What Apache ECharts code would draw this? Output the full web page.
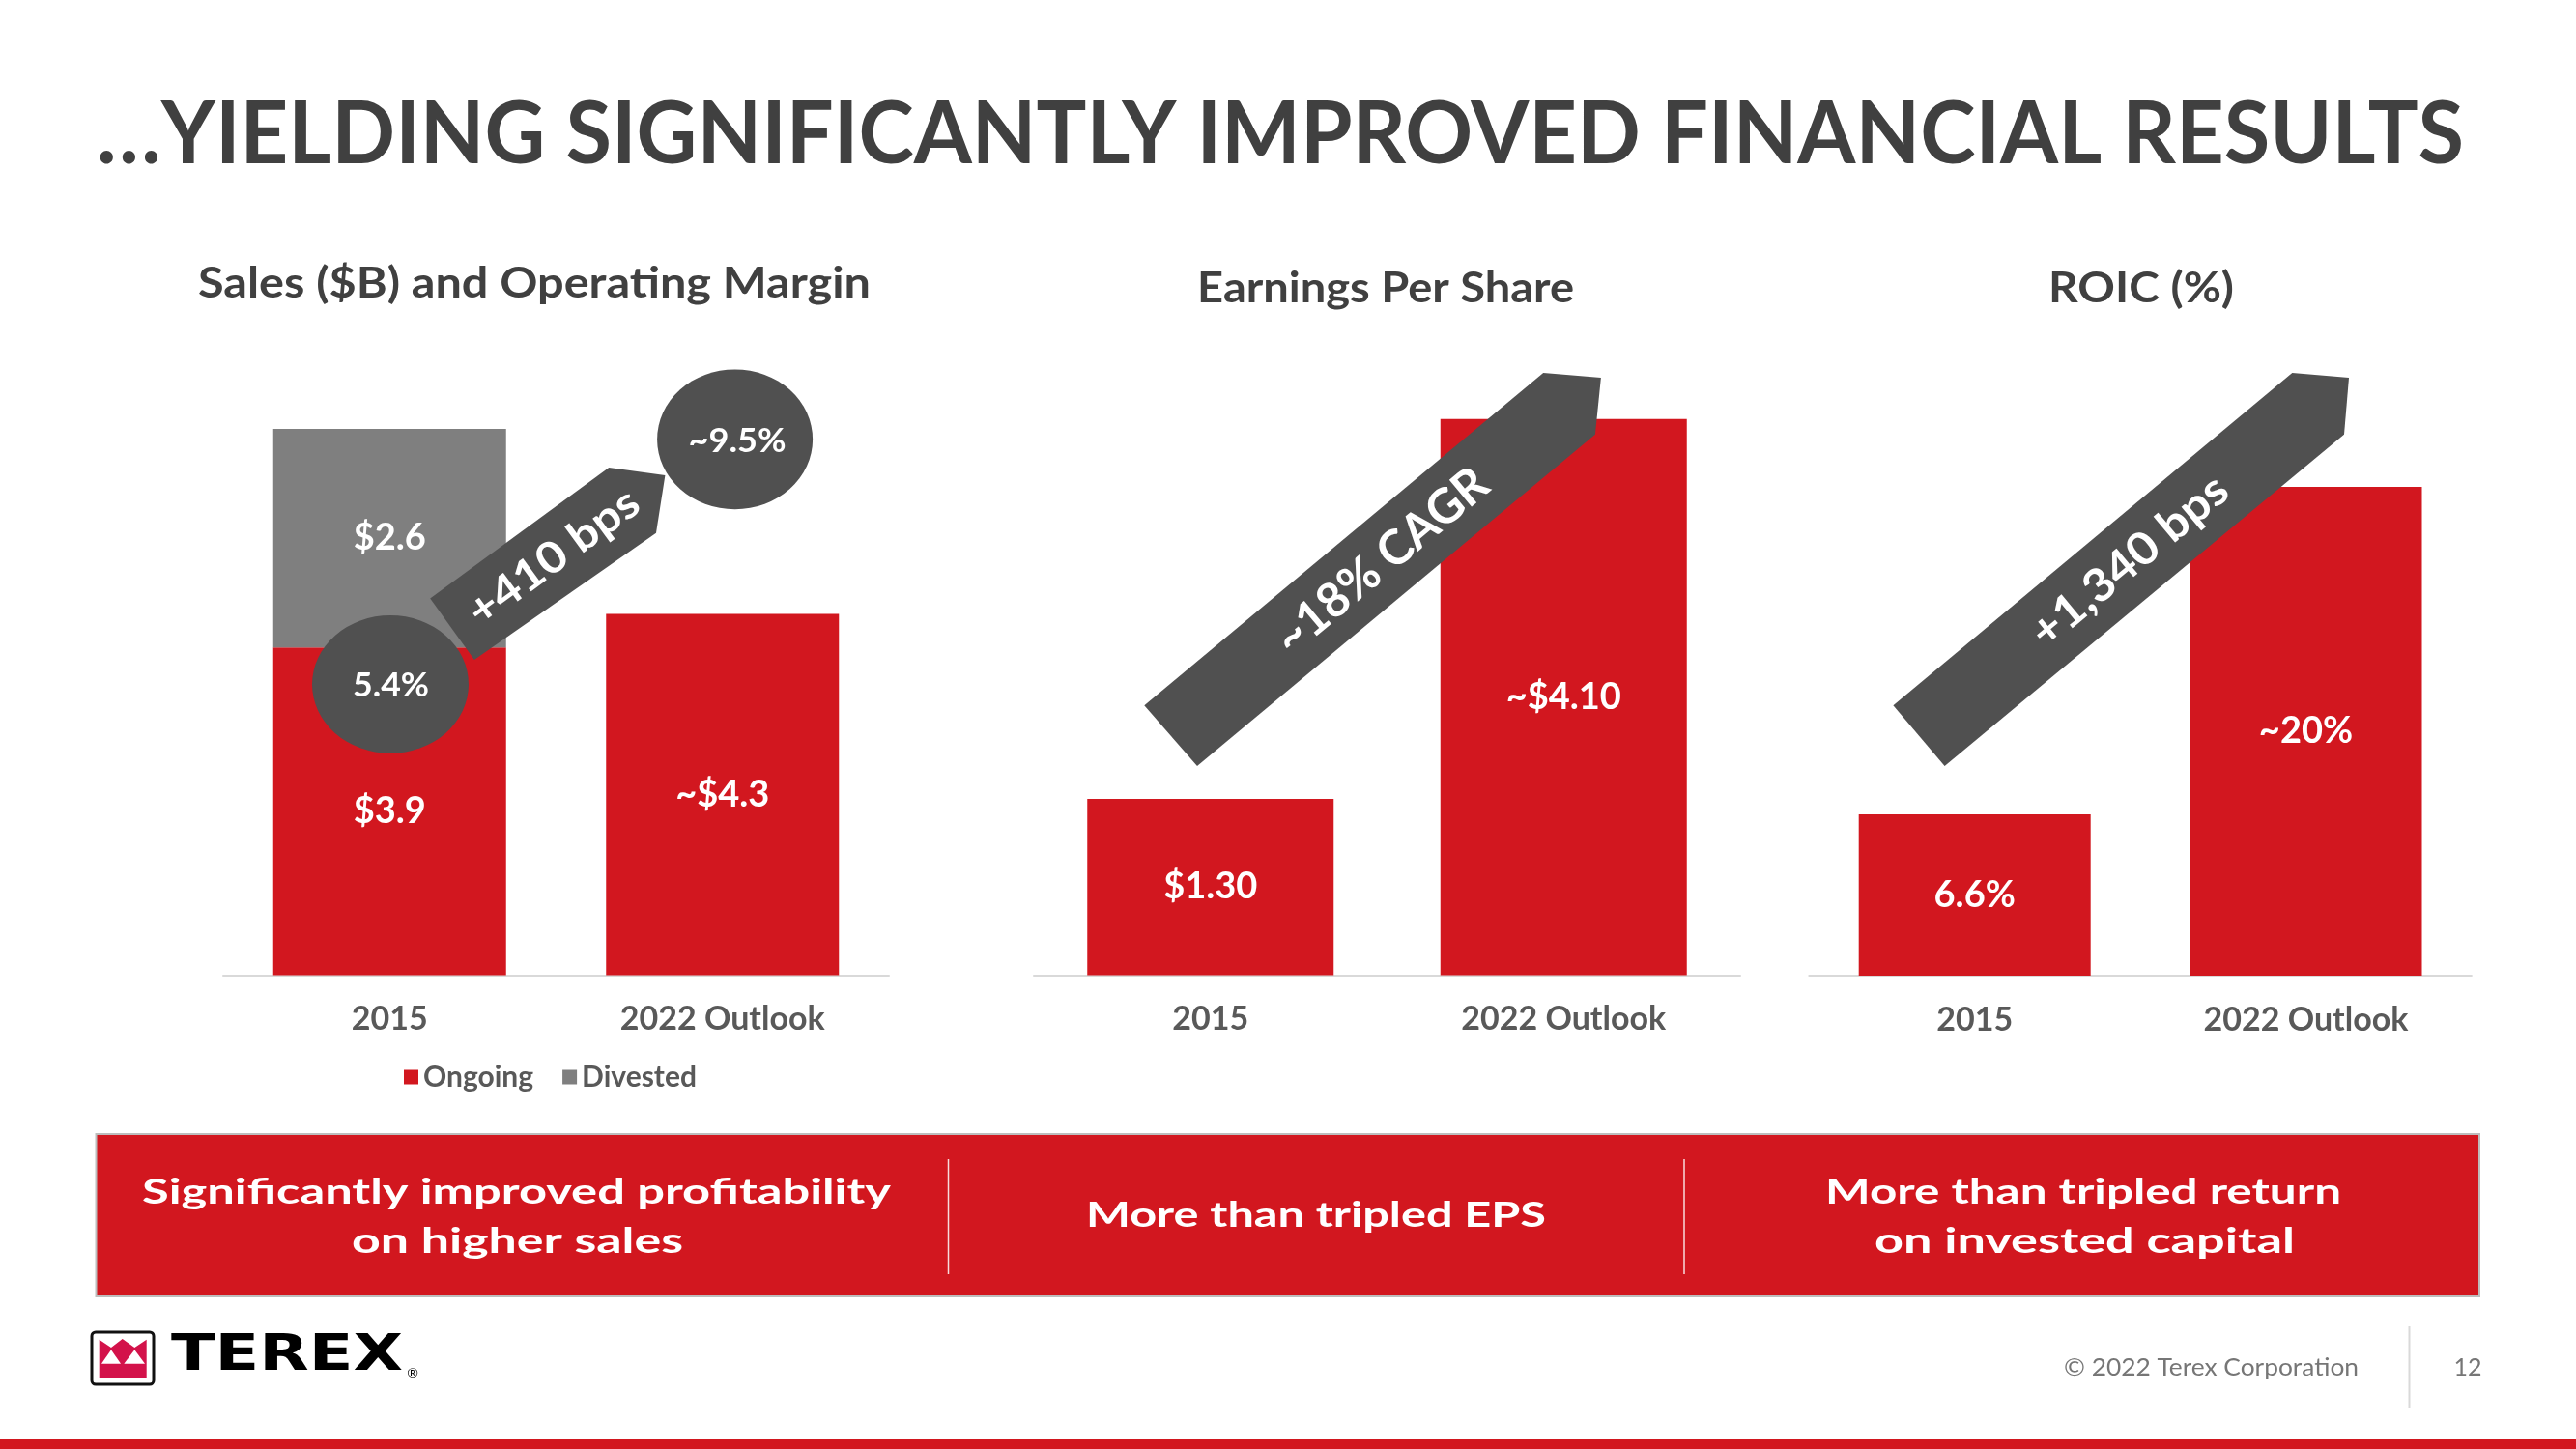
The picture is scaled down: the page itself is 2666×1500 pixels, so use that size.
<!DOCTYPE html>
<html>
<head>
<meta charset="utf-8">
<title>Improved financial results</title>
<script src="https://cdn.jsdelivr.net/npm/echarts@6/dist/echarts.min.js"></script>
<style>
  html, body { margin: 0; padding: 0; background: #fff; }
  #main { width: 2666px; height: 1500px; }
</style>
</head>
<body>
<div id="main"></div>
<script>
  // values
  const categories = ['2015', '2022 Outlook'];
  const salesOngoing = [3.9, 4.3];      // $B
  const salesDivested = [2.6, null];    // $B, 2015 only
  const eps = [1.30, 4.10];             // $ per share
  const roic = [6.6, 20];               // %
  const approx = [false, true];         // 2022 numbers are an outlook (~)
  const marginLabels = ['5.4%', '~9.5%'];
  const growthLabels = ['+410 bps', '~18% CAGR', '+1,340 bps'];
  const chartTitles = ['Sales ($B) and Operating Margin', 'Earnings Per Share', 'ROIC (%)'];
  const takeaways = [
    ['Significantly improved profitability', 'on higher sales'],
    ['More than tripled EPS'],
    ['More than tripled return', 'on invested capital']
  ];

  const RED = '#d2171f';
  const DARK = '#505050';
  const FONT = 'Lato';

  const measure = document.createElement('canvas').getContext('2d');
  function fit(text, size, weight, family, width) {
    measure.font = weight + ' ' + size + 'px ' + family;
    return width / measure.measureText(text).width;
  }

  // text helper for the graphic layer, stretched to the width it has on the slide
  function txt(text, x, y, size, width, opts) {
    opts = opts || {};
    const weight = opts.weight || 'bold';
    const family = opts.family || FONT;
    return {
      type: 'text', x: x, y: y, z: 110,
      rotation: opts.rotation || 0,
      scaleX: width ? fit(text, size, weight, family, width) : 1,
      style: {
        text: text, fontSize: size, fontWeight: weight, fontFamily: family,
        fill: opts.color || '#fff', align: opts.align || 'center', verticalAlign: 'middle'
      }
    };
  }

  function poly(points, color) {
    return { type: 'polygon', z: 100, shape: { points: points }, style: { fill: color } };
  }

  function oval(cx, cy, rx, ry) {
    return { type: 'circle', x: cx, y: cy, scaleY: ry / rx, z: 105, shape: { cx: 0, cy: 0, r: rx }, style: { fill: DARK } };
  }

  const valueLabel = function (fmt) {
    return {
      show: true, position: 'inside', color: '#fff', fontSize: 38, fontWeight: 'bold', fontFamily: FONT,
      formatter: fmt
    };
  };

  const grids = [
    { left: 231, top: 400.5, width: 689, height: 609, max: 7 },
    { left: 1070, top: 307.5, width: 731, height: 702, max: 5 },
    { left: 1872.3, top: 377.4, width: 685.6, height: 632.5, max: 25 }
  ];

  const chart = echarts.init(document.getElementById('main'), null, { renderer: 'canvas' });

  let graphic = [
    txt('\u2026YIELDING SIGNIFICANTLY IMPROVED FINANCIAL RESULTS', 100, 140, 89, 2450, { align: 'left', color: '#404040' }),
    txt(chartTitles[0], 553, 294, 44, 696, { color: '#404040' }),
    txt(chartTitles[1], 1434, 299, 44, 390, { color: '#404040' }),
    txt(chartTitles[2], 2216, 299, 44, 192, { color: '#404040' }),

    // growth arrows
    poly([[445.2, 619.6], [630.2, 483.9], [688.4, 492], [679, 551.7], [490.9, 682.9]], DARK),
    poly([[1184.3, 730.3], [1597.2, 385.9], [1656.9, 391], [1650.9, 449.7], [1239, 793]], DARK),
    poly([[1959.4, 730.3], [2372.3, 385.9], [2431, 391], [2426, 449.7], [2012.6, 793]], DARK),
    txt(growthLabels[0], 573, 577, 45, 208, { rotation: 0.633 }),
    txt(growthLabels[1], 1430, 581, 50, 271, { rotation: 0.695 }),
    txt(growthLabels[2], 2204, 581, 47, 250, { rotation: 0.695 }),

    // operating margin bubbles
    oval(404, 708.4, 81, 71.4),
    oval(760.6, 454.8, 80.5, 72.4),
    txt(marginLabels[0], 404.5, 710, 35, 79),
    txt(marginLabels[1], 763, 457, 35, 101),

    // takeaway box
    { type: 'rect', z: 90, shape: { x: 99.5, y: 1174, width: 2466.5, height: 168 },
      style: { fill: RED, stroke: '#bdbdbd', lineWidth: 2 } },
    { type: 'line', z: 95, shape: { x1: 981.5, y1: 1200, x2: 981.5, y2: 1319 },
      style: { stroke: 'rgba(255,255,255,0.85)', lineWidth: 1.5 } },
    { type: 'line', z: 95, shape: { x1: 1743, y1: 1200, x2: 1743, y2: 1319 },
      style: { stroke: 'rgba(255,255,255,0.85)', lineWidth: 1.5 } },
    txt(takeaways[0][0], 534.5, 1234.5, 36, 775),
    txt(takeaways[0][1], 535.5, 1285.5, 36, 343),
    txt(takeaways[1][0], 1362, 1258, 36, 476),
    txt(takeaways[2][0], 2156, 1234.5, 36, 534),
    txt(takeaways[2][1], 2157.5, 1285.5, 36, 435),

    // footer
    { type: 'rect', z: 90, shape: { x: 95, y: 1379, width: 64, height: 54, r: 4 },
      style: { fill: '#fff', stroke: '#111', lineWidth: 3 } },
    poly([[102.7, 1386.7], [115, 1395], [126.7, 1386], [139.3, 1395], [151.7, 1386.7], [151.7, 1426.7], [102.7, 1426.7]], '#d3124a'),
    poly([[105, 1411.7], [115, 1397.3], [125, 1411.7]], '#fff'),
    poly([[128.3, 1411.7], [139.3, 1397.3], [150, 1411.7]], '#fff'),
    txt('TEREX', 177, 1404.5, 52, 240, { align: 'left', color: '#000', family: '"DejaVu Sans"' }),
    txt('\u00ae', 427, 1421, 14, 0, { color: '#000', weight: 'normal' }),
    txt('\u00a9 2022 Terex Corporation', 2136, 1416, 25, 305, { align: 'left', color: '#767676', weight: 'normal' }),
    { type: 'line', z: 95, shape: { x1: 2493.5, y1: 1373, x2: 2493.5, y2: 1458 },
      style: { stroke: '#d9d9d9', lineWidth: 2 } },
    txt('12', 2554, 1416, 25, 0, { color: '#767676', weight: 'normal' }),
    { type: 'rect', z: 90, shape: { x: 0, y: 1490, width: 2666, height: 10 }, style: { fill: RED } }
  ];

  const option = {
    animation: false,
    backgroundColor: '#fff',
    textStyle: { fontFamily: FONT },
    grid: grids.map(function (g) {
      return { left: g.left, top: g.top, width: g.width, height: g.height, containLabel: false, outerBoundsMode: 'none' };
    }),
    xAxis: grids.map(function (g, i) {
      return {
        type: 'category', gridIndex: i, data: categories,
        axisLine: { show: true, lineStyle: { color: '#d9d9d9', width: 2 } },
        axisTick: { show: false },
        splitLine: { show: false },
        axisLabel: { fontSize: 34, fontWeight: 'bold', color: '#595959', margin: 29, fontFamily: FONT }
      };
    }),
    yAxis: grids.map(function (g, i) {
      return { type: 'value', gridIndex: i, min: 0, max: g.max, show: false, splitLine: { show: false } };
    }),
    legend: {
      data: ['Ongoing', 'Divested'],
      left: 418, top: 1100, padding: 0,
      icon: 'rect', itemWidth: 15, itemHeight: 15, itemGap: 30,
      textStyle: { fontSize: 30, fontWeight: 'bold', color: '#595959', fontFamily: FONT }
    },
    series: [
      {
        name: 'Ongoing', type: 'bar', xAxisIndex: 0, yAxisIndex: 0, stack: 'sales',
        data: salesOngoing, barWidth: 241, itemStyle: { color: RED },
        label: valueLabel(function (p) { return (approx[p.dataIndex] ? '~' : '') + '$' + p.value.toFixed(1); })
      },
      {
        name: 'Divested', type: 'bar', xAxisIndex: 0, yAxisIndex: 0, stack: 'sales',
        data: salesDivested, barWidth: 241, itemStyle: { color: '#7f7f7f' },
        label: valueLabel(function (p) { return '$' + p.value.toFixed(1); })
      },
      {
        name: 'EPS', type: 'bar', xAxisIndex: 1, yAxisIndex: 1,
        data: eps, barWidth: 255, itemStyle: { color: RED },
        label: valueLabel(function (p) { return (approx[p.dataIndex] ? '~' : '') + '$' + p.value.toFixed(2); })
      },
      {
        name: 'ROIC', type: 'bar', xAxisIndex: 2, yAxisIndex: 2,
        data: roic, barWidth: 240, itemStyle: { color: RED },
        label: valueLabel(function (p) { return (approx[p.dataIndex] ? '~' : '') + p.value + '%'; })
      }
    ],
    graphic: graphic
  };

  chart.setOption(option);
</script>
</body>
</html>
